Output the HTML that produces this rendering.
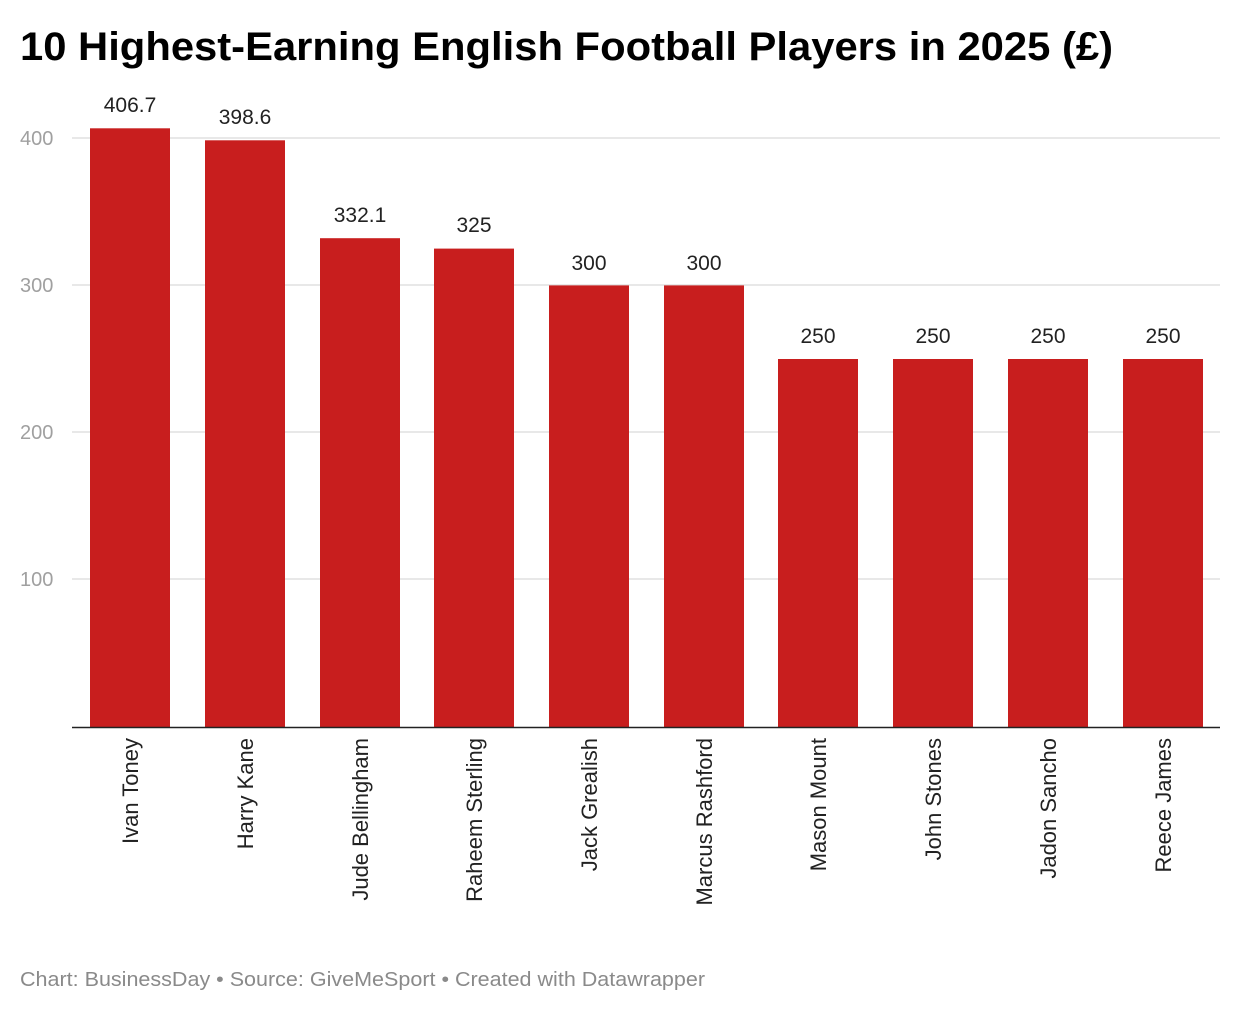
<!DOCTYPE html>
<html><head><meta charset="utf-8"><style>
body{margin:0;background:#fff;width:1240px;height:1014px;overflow:hidden;font-family:"Liberation Sans",sans-serif}
</style></head><body>
<svg width="1240" height="1014" xmlns="http://www.w3.org/2000/svg" font-family="Liberation Sans, sans-serif">
<text x="20" y="60" font-size="40" font-weight="bold" fill="#000" textLength="1093" lengthAdjust="spacingAndGlyphs">10 Highest-Earning English Football Players in 2025 (£)</text>
<g stroke="#e0e0e0" stroke-width="1.5">
<line x1="72" x2="1220" y1="138" y2="138"/>
<line x1="72" x2="1220" y1="285" y2="285"/>
<line x1="72" x2="1220" y1="432" y2="432"/>
<line x1="72" x2="1220" y1="579" y2="579"/>
</g>
<g font-size="20" fill="#a0a0a0">
<text x="20" y="145">400</text>
<text x="20" y="292">300</text>
<text x="20" y="439">200</text>
<text x="20" y="586">100</text>
</g>
<g fill="#c81e1e">
<rect x="90" y="128.3" width="80" height="598.7"/>
<rect x="205" y="140.3" width="80" height="586.7"/>
<rect x="320" y="238.2" width="80" height="488.8"/>
<rect x="434" y="248.6" width="80" height="478.4"/>
<rect x="549" y="285.4" width="80" height="441.6"/>
<rect x="664" y="285.4" width="80" height="441.6"/>
<rect x="778" y="359" width="80" height="368"/>
<rect x="893" y="359" width="80" height="368"/>
<rect x="1008" y="359" width="80" height="368"/>
<rect x="1123" y="359" width="80" height="368"/>
</g>
<line x1="72" x2="1220" y1="727.5" y2="727.5" stroke="#222" stroke-width="1.5"/>
<g font-size="21" fill="#222" text-anchor="middle">
<text x="130" y="112">406.7</text>
<text x="245" y="124">398.6</text>
<text x="360" y="222">332.1</text>
<text x="474" y="232">325</text>
<text x="589" y="270">300</text>
<text x="704" y="270">300</text>
<text x="818" y="343">250</text>
<text x="933" y="343">250</text>
<text x="1048" y="343">250</text>
<text x="1163" y="343">250</text>
</g>
<g font-size="22" fill="#222" text-anchor="end">
<text transform="translate(138,738) rotate(-90)">Ivan Toney</text>
<text transform="translate(253,738) rotate(-90)">Harry Kane</text>
<text transform="translate(368,738) rotate(-90)">Jude Bellingham</text>
<text transform="translate(482,738) rotate(-90)">Raheem Sterling</text>
<text transform="translate(597,738) rotate(-90)">Jack Grealish</text>
<text transform="translate(712,738) rotate(-90)">Marcus Rashford</text>
<text transform="translate(826,738) rotate(-90)">Mason Mount</text>
<text transform="translate(941,738) rotate(-90)">John Stones</text>
<text transform="translate(1056,738) rotate(-90)">Jadon Sancho</text>
<text transform="translate(1171,738) rotate(-90)">Reece James</text>
</g>
<text x="20" y="986" font-size="20" fill="#8a8a8a" textLength="685" lengthAdjust="spacingAndGlyphs">Chart: BusinessDay • Source: GiveMeSport • Created with Datawrapper</text>
</svg>
</body></html>
